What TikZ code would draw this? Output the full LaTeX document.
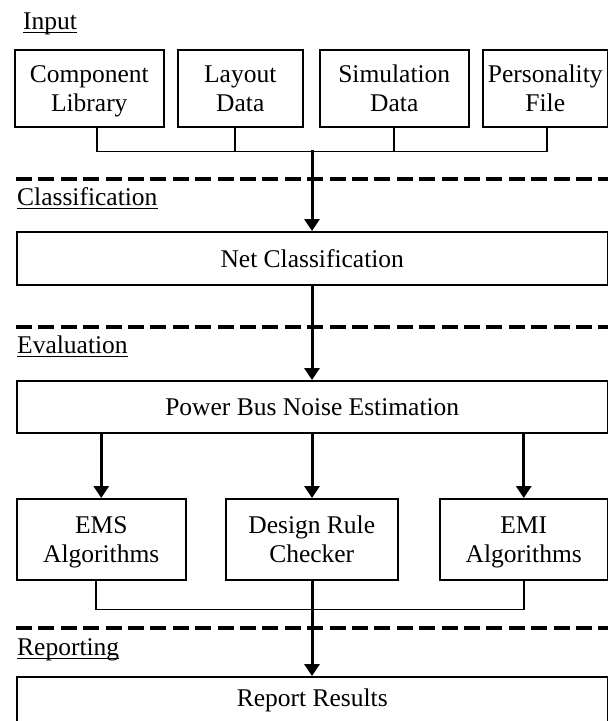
\documentclass[tikz,border=0pt]{standalone}
\usepackage{fontspec}
\setmainfont{Liberation Serif}
\usetikzlibrary{arrows.meta,calc}
\newcommand\tstr{\rule{0pt}{22pt}}
\begin{document}
\begin{tikzpicture}[x=1pt,y=-1pt,
  txt/.style={font=\fontsize{25.5}{29}\selectfont},
  box/.style={draw, line width=1.5pt, inner sep=0pt, align=center, anchor=north west, txt},
  thinline/.style={line width=1.5pt},
  flow/.style={line width=3pt, -{Triangle[length=12pt,width=15pt]}},
  sepline/.style={line width=4.2pt, dash pattern=on 16pt off 6.4pt},
  lbl/.style={anchor=base west, inner sep=0pt, txt},
  uline/.style={line width=1.3pt}]
\useasboundingbox (0,0) rectangle (608,721);
\clip (0,0) rectangle (608,721);

% section labels
\node[lbl] (linput) at (23,29) {Input};
\node[lbl] (lclass) at (17,205) {Classification};
\node[lbl] (leval) at (17,353) {Evaluation};
\node[lbl] (lrep) at (17,655) {Reporting};
\foreach \l in {linput,lclass,leval,lrep}
  \draw[uline] ([yshift=-3.5pt]\l.base west) -- ([yshift=-3.5pt]\l.base east);

% separators
\coordinate (s1a) at (16,179); \coordinate (s1b) at (608,179);
\coordinate (s2a) at (16,327); \coordinate (s2b) at (608,327);
\coordinate (s3a) at (16,628); \coordinate (s3b) at (608,628);
\draw[sepline] (s1a) -- (s1b);
\draw[sepline] (s2a) -- (s2b);
\draw[sepline] (s3a) -- (s3b);

% input boxes
\node[box, minimum width=149pt, minimum height=77pt] (b1) at (14,49) {\tstr Component\\Library};
\node[box, minimum width=125pt, minimum height=77pt] (b2) at (177,49) {\tstr Layout\\Data\vphantom{y}};
\node[box, minimum width=149pt, minimum height=77pt] (b3) at (319,49) {\tstr Simulation\\Data\vphantom{y}};
\node[box, minimum width=125pt, minimum height=77pt] (b4) at (482,49) {\tstr Personality\\File\vphantom{y}};

% classification
\node[box, minimum width=591pt, minimum height=53pt] (net) at (16,231) {Net Classification};
% evaluation
\node[box, minimum width=591pt, minimum height=52pt] (pbn) at (16,380) {Power Bus Noise Estimation};
\node[box, minimum width=169pt, minimum height=81pt] (ems) at (16,498) {\tstr EMS\\Algorithms};
\node[box, minimum width=172pt, minimum height=81pt] (drc) at (225,498) {\tstr Design Rule\\Checker\vphantom{g}};
\node[box, minimum width=168pt, minimum height=81pt] (emi) at (439,498) {\tstr EMI\\Algorithms};
% reporting
\node[box, minimum width=591pt, minimum height=48pt] (rep) at (16,676) {Report Results};

% input bracket
\coordinate (j1) at (312,150);
\draw[thinline] ($(b1.south)+(7.5,0)$) -- ++(0,24) -| ($(b4.south)+(1.5,0)$);
\draw[thinline] ($(b2.south)+(-5.5,0)$) -- ++(0,24);
\draw[thinline] ($(b3.south)+(-0.5,0)$) -- ++(0,24);
\draw[flow] (j1) -- (j1 |- net.north);

% evaluation flows
\draw[flow] (net.south -| j1) -- (pbn.north -| j1);
\draw[flow] (pbn.south -| ems) -- (ems.north);
\draw[flow] (pbn.south -| j1) -- (drc.north -| j1);
\draw[flow] (pbn.south -| emi) -- (emi.north);

% output bracket
\draw[thinline] ($(ems.south)+(-5.5,0)$) -- ++(0,29) -| (emi.south);
\draw[flow] (drc.south -| j1) -- (rep.north -| j1);
\end{tikzpicture}
\end{document}
